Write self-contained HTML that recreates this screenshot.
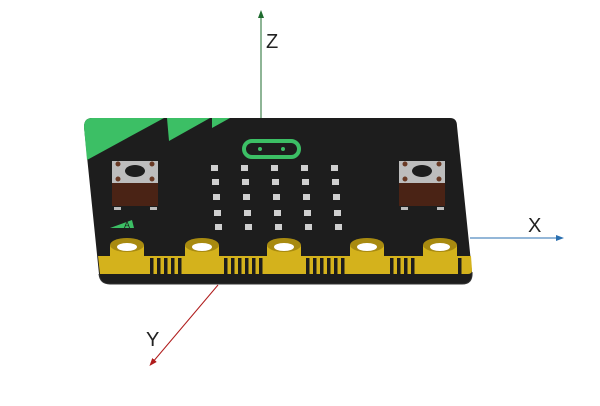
<!DOCTYPE html>
<html><head><style>html,body{margin:0;padding:0;background:#fff}svg{display:block}</style></head>
<body>
<svg width="600" height="406" viewBox="0 0 600 406" xmlns="http://www.w3.org/2000/svg" font-family="Liberation Sans, sans-serif">
<defs>
<marker id="ag" markerWidth="8" markerHeight="8" refX="4" refY="4" orient="auto"><path d="M0,1 L8,4 L0,7 z" fill="#1e6b2e"/></marker>
<marker id="ab" markerWidth="8" markerHeight="8" refX="4" refY="4" orient="auto"><path d="M0,1 L8,4 L0,7 z" fill="#2a6fb0"/></marker>
<marker id="ar" markerWidth="8" markerHeight="8" refX="4" refY="4" orient="auto"><path d="M0,1 L8,4 L0,7 z" fill="#b01c1c"/></marker>
</defs>
<line x1="261" y1="118" x2="261" y2="14" stroke="#1e6b2e" stroke-width="1" marker-end="url(#ag)"/>
<text x="266" y="48" font-size="20" fill="#222">Z</text>
<line x1="470" y1="238" x2="560" y2="238" stroke="#2a6fb0" stroke-width="1" marker-end="url(#ab)"/>
<text x="528" y="232" font-size="20" fill="#222">X</text>
<line x1="218" y1="285" x2="152" y2="363" stroke="#b01c1c" stroke-width="1" marker-end="url(#ar)"/>
<text x="146" y="346" font-size="20" fill="#222">Y</text>
<!-- board -->
<path d="M92,118 L450,118 Q457,118 457,126 L472,272 Q473,284 462,284 L110,284 Q100,284 99,274 L84,127 Q84,118 92,118 z" fill="#1d1d1d"/>
<path d="M99,274 Q100,284 110,284 L462,284 Q473,284 472,272" fill="none" stroke="#333" stroke-width="1"/>
<!-- green corner -->
<path d="M92,118 L164,118 L87,160 L84,127 Q84,118 92,118 z" fill="#3cbf65"/>
<path d="M167,118 L210,118 L169,141 z" fill="#3cbf65"/>
<path d="M212,118 L230,118 L212,128 z" fill="#3cbf65"/>
<path d="M110,228 L132,220 L134,228 z" fill="#3cbf65"/>
<text x="124" y="228" font-size="9" fill="#1d1d1d">A</text>
<!-- logo -->
<rect x="244" y="141" width="55" height="16" rx="8" fill="none" stroke="#3cbf65" stroke-width="4"/>
<circle cx="260" cy="149" r="2" fill="#3cbf65"/><circle cx="283" cy="149" r="2" fill="#3cbf65"/>
<!-- buttons -->
<g>
<rect x="112" y="161" width="46" height="22" fill="#bdbdbd"/>
<rect x="112" y="183" width="46" height="23" fill="#4a2315"/>
<ellipse cx="135" cy="171" rx="10" ry="6" fill="#1d1d1d"/>
<circle cx="118" cy="164" r="2.5" fill="#6a3a25"/><circle cx="152" cy="164" r="2.5" fill="#6a3a25"/>
<circle cx="118" cy="179" r="2.5" fill="#6a3a25"/><circle cx="152" cy="179" r="2.5" fill="#6a3a25"/>
<rect x="114" y="207" width="7" height="3" fill="#bbb"/><rect x="150" y="207" width="7" height="3" fill="#bbb"/>
</g>
<g>
<rect x="399" y="161" width="46" height="22" fill="#bdbdbd"/>
<rect x="399" y="183" width="46" height="23" fill="#4a2315"/>
<ellipse cx="422" cy="171" rx="10" ry="6" fill="#1d1d1d"/>
<circle cx="405" cy="164" r="2.5" fill="#6a3a25"/><circle cx="439" cy="164" r="2.5" fill="#6a3a25"/>
<circle cx="405" cy="179" r="2.5" fill="#6a3a25"/><circle cx="439" cy="179" r="2.5" fill="#6a3a25"/>
<rect x="401" y="207" width="7" height="3" fill="#bbb"/><rect x="437" y="207" width="7" height="3" fill="#bbb"/>
</g>
<!-- LEDs -->
<g fill="#cfcfcf">
<rect x="211" y="165" width="7" height="6"/><rect x="241" y="165" width="7" height="6"/><rect x="271" y="165" width="7" height="6"/><rect x="301" y="165" width="7" height="6"/><rect x="331" y="165" width="7" height="6"/>
<rect x="212" y="179" width="7" height="6"/><rect x="242" y="179" width="7" height="6"/><rect x="272" y="179" width="7" height="6"/><rect x="302" y="179" width="7" height="6"/><rect x="332" y="179" width="7" height="6"/>
<rect x="213" y="194" width="7" height="6"/><rect x="243" y="194" width="7" height="6"/><rect x="273" y="194" width="7" height="6"/><rect x="303" y="194" width="7" height="6"/><rect x="333" y="194" width="7" height="6"/>
<rect x="214" y="210" width="7" height="6"/><rect x="244" y="210" width="7" height="6"/><rect x="274" y="210" width="7" height="6"/><rect x="304" y="210" width="7" height="6"/><rect x="334" y="210" width="7" height="6"/>
<rect x="215" y="224" width="7" height="6"/><rect x="245" y="224" width="7" height="6"/><rect x="275" y="224" width="7" height="6"/><rect x="305" y="224" width="7" height="6"/><rect x="335" y="224" width="7" height="6"/>
</g>
<!-- gold edge strip -->
<path d="M98,256 L471,256 L472,270 Q472,274 468,274 L100,274 z" fill="#d4b21c"/>
<g fill="#1d1d1d">
<rect x="150" y="258" width="3.5" height="16"/><rect x="157" y="258" width="3.5" height="16"/><rect x="164" y="258" width="3.5" height="16"/><rect x="171" y="258" width="3.5" height="16"/><rect x="178" y="258" width="3.5" height="16"/>
<rect x="224" y="258" width="3.5" height="16"/><rect x="231" y="258" width="3.5" height="16"/><rect x="238" y="258" width="3.5" height="16"/><rect x="245" y="258" width="3.5" height="16"/><rect x="252" y="258" width="3.5" height="16"/><rect x="259" y="258" width="3.5" height="16"/>
<rect x="306" y="258" width="3.5" height="16"/><rect x="313" y="258" width="3.5" height="16"/><rect x="320" y="258" width="3.5" height="16"/><rect x="327" y="258" width="3.5" height="16"/><rect x="334" y="258" width="3.5" height="16"/><rect x="341" y="258" width="3.5" height="16"/>
<rect x="390" y="258" width="3.5" height="16"/><rect x="397" y="258" width="3.5" height="16"/><rect x="404" y="258" width="3.5" height="16"/><rect x="411" y="258" width="3.5" height="16"/>
<rect x="458" y="258" width="3.5" height="16"/>
</g>
<!-- pads -->
<g>
<g transform="translate(127,0)"><rect x="-17" y="245" width="34" height="29" fill="#d4b21c"/><ellipse cx="0" cy="245" rx="17" ry="7" fill="#a88a10"/><ellipse cx="0" cy="247" rx="10" ry="4" fill="#fff"/></g>
<g transform="translate(202,0)"><rect x="-17" y="245" width="34" height="29" fill="#d4b21c"/><ellipse cx="0" cy="245" rx="17" ry="7" fill="#a88a10"/><ellipse cx="0" cy="247" rx="10" ry="4" fill="#fff"/></g>
<g transform="translate(284,0)"><rect x="-17" y="245" width="34" height="29" fill="#d4b21c"/><ellipse cx="0" cy="245" rx="17" ry="7" fill="#a88a10"/><ellipse cx="0" cy="247" rx="10" ry="4" fill="#fff"/></g>
<g transform="translate(367,0)"><rect x="-17" y="245" width="34" height="29" fill="#d4b21c"/><ellipse cx="0" cy="245" rx="17" ry="7" fill="#a88a10"/><ellipse cx="0" cy="247" rx="10" ry="4" fill="#fff"/></g>
<g transform="translate(440,0)"><rect x="-17" y="245" width="34" height="29" fill="#d4b21c"/><ellipse cx="0" cy="245" rx="17" ry="7" fill="#a88a10"/><ellipse cx="0" cy="247" rx="10" ry="4" fill="#fff"/></g>
</g>
</svg>
</body></html>
